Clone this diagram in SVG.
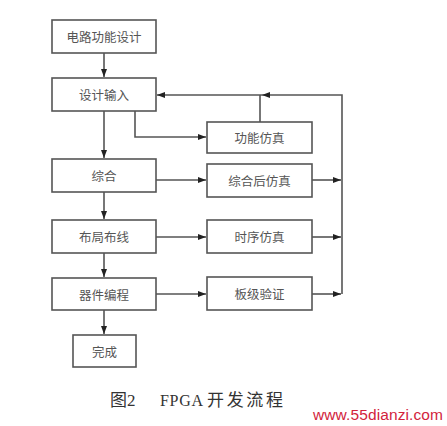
<svg xmlns="http://www.w3.org/2000/svg" width="447" height="426" viewBox="0 0 447 426">
<defs>
<style>
.box{fill:#fff;stroke:#555;stroke-width:1.6}
.lbl{font-family:"Noto Sans CJK SC","Noto Sans",sans-serif;font-size:12.5px;fill:#555;text-anchor:middle;dominant-baseline:central}
.ln{fill:none;stroke:#555;stroke-width:1.6}
.cap{font-family:"Liberation Serif","Noto Sans CJK SC",serif;font-size:16px;fill:#333}
</style>
<marker id="ah" viewBox="0 0 8 6" refX="8" refY="3" markerWidth="8" markerHeight="6" markerUnits="userSpaceOnUse" orient="auto">
<path d="M0,0 L8,3 L0,6 Z" fill="#222"/>
</marker>
</defs>
<rect width="447" height="426" fill="#fff"/>
<g id="connectors">
<path class="ln" d="M104,53 V77" marker-end="url(#ah)"/>
<path class="ln" d="M104,111 V158" marker-end="url(#ah)"/>
<path class="ln" d="M104,192 V219" marker-end="url(#ah)"/>
<path class="ln" d="M104,253 V277" marker-end="url(#ah)"/>
<path class="ln" d="M104,310 V334" marker-end="url(#ah)"/>
<path class="ln" d="M135,111 V137 H206" marker-end="url(#ah)"/>
<path class="ln" d="M156,180 H206" marker-end="url(#ah)"/>
<path class="ln" d="M156,237 H206" marker-end="url(#ah)"/>
<path class="ln" d="M156,294 H206" marker-end="url(#ah)"/>
<path class="ln" d="M312,180 H341" marker-end="url(#ah)"/>
<path class="ln" d="M312,237 H341" marker-end="url(#ah)"/>
<path class="ln" d="M312,294 H341" marker-end="url(#ah)"/>
<path class="ln" d="M342,294 V95 H262" marker-end="url(#ah)"/>
<path class="ln" d="M262,95 H157" marker-end="url(#ah)"/>
<path class="ln" d="M260,122 V95"/>
</g>
<g id="n1"><rect class="box" x="52" y="20" width="104" height="33"/><text class="lbl" x="104" y="36.5" textLength="75">电路功能设计</text></g>
<g id="n2"><rect class="box" x="52" y="78" width="104" height="33"/><text class="lbl" x="104" y="94.5">设计输入</text></g>
<g id="n3"><rect class="box" x="52" y="159" width="104" height="33"/><text class="lbl" x="104" y="175.5">综合</text></g>
<g id="n4"><rect class="box" x="52" y="220" width="104" height="33"/><text class="lbl" x="104" y="236.5">布局布线</text></g>
<g id="n5"><rect class="box" x="52" y="278" width="104" height="32"/><text class="lbl" x="104" y="294">器件编程</text></g>
<g id="n6"><rect class="box" x="73" y="335" width="63" height="32"/><text class="lbl" x="104.5" y="351">完成</text></g>
<g id="r1"><rect class="box" x="207" y="122" width="105" height="31"/><text class="lbl" x="259.5" y="137.5">功能仿真</text></g>
<g id="r2"><rect class="box" x="207" y="164" width="105" height="33"/><text class="lbl" x="259.5" y="180.5">综合后仿真</text></g>
<g id="r3"><rect class="box" x="207" y="220" width="105" height="33"/><text class="lbl" x="259.5" y="236.5">时序仿真</text></g>
<g id="r4"><rect class="box" x="207" y="277" width="105" height="33"/><text class="lbl" x="259.5" y="293.5">板级验证</text></g>
<g id="caption">
<text class="cap" x="110" y="406" style="font-size:17px">图</text>
<text class="cap" x="127" y="406" style="font-size:17px">2</text>
<text class="cap" x="160" y="406" textLength="43">FPGA</text>
<text class="cap" x="207" y="406" textLength="76" style="font-size:17px">开发流程</text>
<text x="313" y="420" textLength="130" style="font-family:'Liberation Sans',Arial,sans-serif;font-size:15.5px;fill:#d2233c">www.55dianzi.com</text>
</g>
</svg>
